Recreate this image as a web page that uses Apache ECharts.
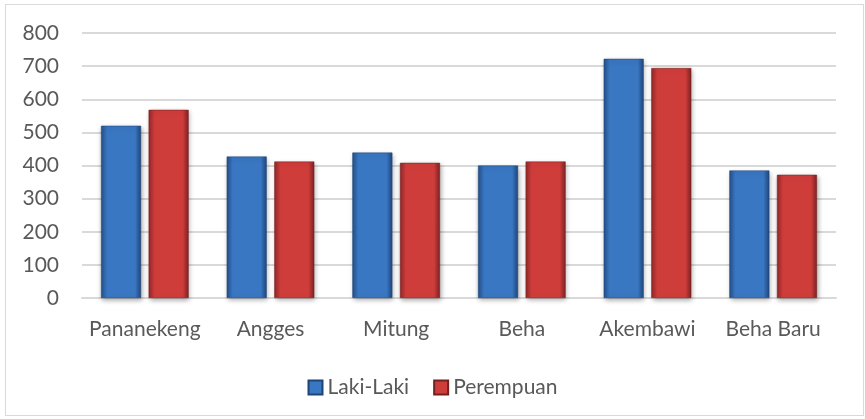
<!DOCTYPE html>
<html>
<head>
<meta charset="UTF-8">
<title>Laki-Laki / Perempuan</title>
<script src="https://cdn.jsdelivr.net/npm/echarts@6/dist/echarts.min.js"></script>
<style>
  html, body { margin: 0; padding: 0; background: #fff; }
  #frame { position: absolute; left: 5px; top: 4px; width: 857px; height: 410px; border: 1px solid #d9d9d9; }
  #main { width: 865px; height: 419px; }
</style>
</head>
<body>
<div id="frame"></div>
<div id="main"></div>
<script type="text/javascript">
var categories = ['Pananekeng', 'Angges', 'Mitung', 'Beha', 'Akembawi', 'Beha Baru'];
var lakiLaki = [520, 427, 439, 400, 722, 385];
var perempuan = [568, 412, 408, 412, 694, 372];
var yTicks = [0, 100, 200, 300, 400, 500, 600, 700, 800];

var font = 'Lato, "Open Sans", sans-serif';

// gradien samping supaya batang terlihat timbul
function barGrad(edge, mid, edge2) {
	return new echarts.graphic.LinearGradient(0, 0, 1, 0, [
		{ offset: 0, color: edge },
		{ offset: 0.15, color: mid },
		{ offset: 0.85, color: mid },
		{ offset: 1, color: edge2 }
	]);
}

var myChart = echarts.init(document.getElementById('main'));

option = {
	animation: false,
	textStyle: { fontFamily: font },
	grid: { left: 82, right: 29, top: 33, bottom: 121 },
	legend: {
		top: 372,
		left: 'center',
		itemWidth: 14,
		itemHeight: 14,
		itemGap: 24,
		icon: 'rect',
		textStyle: { color: '#595959', fontSize: 21, fontFamily: font },
		data: ['Laki-Laki', 'Perempuan']
	},
	xAxis: {
		type: 'category',
		data: categories,
		axisLine: { show: true, lineStyle: { color: '#d9d9d9', width: 2 } },
		axisTick: { show: false },
		axisLabel: { color: '#595959', fontSize: 21, margin: 21, interval: 0 }
	},
	yAxis: {
		type: 'value',
		min: yTicks[0],
		max: yTicks[yTicks.length - 1],
		interval: 100,
		axisLine: { show: false },
		axisTick: { show: false },
		axisLabel: { color: '#595959', fontSize: 21, margin: 23 },
		splitLine: { lineStyle: { color: '#d9d9d9', width: 2 } }
	},
	series: [
		{
			name: 'Laki-Laki',
			type: 'bar',
			data: lakiLaki,
			barWidth: 40,
			barGap: '19%',
			color: '#3a77c2',
			itemStyle: {
				color: barGrad('#24508c', '#3a77c2', '#20467c'),
				borderColor: '#1f4577',
				borderWidth: 0.5,
				shadowColor: 'rgba(0,0,0,0.35)',
				shadowBlur: 5,
				shadowOffsetX: 1,
				shadowOffsetY: 2
			}
		},
		{
			name: 'Perempuan',
			type: 'bar',
			data: perempuan,
			barWidth: 40,
			color: '#cf3d3b',
			itemStyle: {
				color: barGrad('#93282a', '#cf3d3b', '#7f2224'),
				borderColor: '#74201f',
				borderWidth: 0.5,
				shadowColor: 'rgba(0,0,0,0.35)',
				shadowBlur: 5,
				shadowOffsetX: 1,
				shadowOffsetY: 2
			}
		}
	]
};

myChart.setOption(option);
</script>
</body>
</html>
